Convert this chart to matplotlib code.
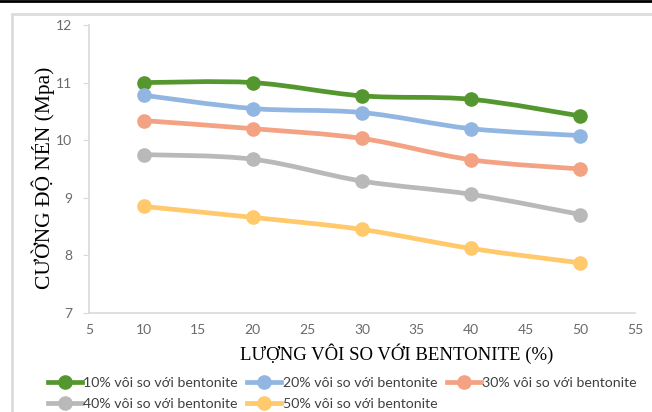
import numpy as np
import matplotlib.pyplot as plt
from matplotlib.patches import Rectangle, PathPatch
from matplotlib.lines import Line2D
from matplotlib.path import Path

# luong voi so voi bentonite (%)
x_vals = [10, 20, 30, 40, 50]

s10 = [11.00, 11.00, 10.77, 10.71, 10.42]
s20 = [10.78, 10.55, 10.48, 10.20, 10.08]
s30 = [10.34, 10.20, 10.03, 9.66, 9.50]
s40 = [9.75, 9.67, 9.29, 9.06, 8.71]
s50 = [8.85, 8.66, 8.45, 8.12, 7.87]

labels = ['10% vôi so với bentonite', '20% vôi so với bentonite',
          '30% vôi so với bentonite', '40% vôi so với bentonite',
          '50% vôi so với bentonite']
colors = ['#55972f', '#92b6e2', '#f3a283', '#b9b9b9', '#ffc96c']

xticks = [5, 10, 15, 20, 25, 30, 35, 40, 45, 50, 55]
yticks = [7, 8, 9, 10, 11, 12]


def smooth_path(xs, ys):
    # excel-like smoothed line: cubic bezier through the points
    p = np.column_stack([xs, ys]).astype(float)
    n = len(p)
    verts = [p[0]]
    codes = [Path.MOVETO]
    for i in range(n - 1):
        p0 = p[i - 1] if i > 0 else p[i]
        p3 = p[i + 2] if i + 2 < n else p[i + 1]
        c1 = p[i] + (p[i + 1] - p0) / 6.0
        c2 = p[i + 1] - (p3 - p[i]) / 6.0
        verts += [c1, c2, p[i + 1]]
        codes += [Path.CURVE4] * 3
    return Path(verts, codes)


fig = plt.figure(figsize=(6.52, 4.12), dpi=100)

# outer chart frame + black top line
fig.patches.append(Rectangle((12/652, -0.1), 1.0, 1 - 14/412 + 0.1,
                             transform=fig.transFigure, fill=False,
                             edgecolor='#dcdcdc', linewidth=2.0))
fig.add_artist(Line2D([0, 1], [1 - 1/412, 1 - 1/412], transform=fig.transFigure,
                      color='black', linewidth=2.0))

ax = fig.add_axes([89/652, 1 - 313/412, (635 - 89)/652, (313 - 25)/412])

handles = []
for ys, lab, c in zip([s10, s20, s30, s40, s50], labels, colors):
    ax.add_patch(PathPatch(smooth_path(x_vals, ys), facecolor='none',
                           edgecolor=c, linewidth=3.4, capstyle='round'))
    ax.plot(x_vals, ys, linestyle='none', color=c, marker='o', markersize=9.5)
    handles.append(Line2D([], [], color=c, linewidth=3.4, marker='o',
                          markersize=9.5, label=lab))

ax.set_xlim(5, 55)
ax.set_ylim(7, 12)
ax.set_xticks(xticks)
ax.set_yticks(yticks)

for side in ['top', 'right']:
    ax.spines[side].set_visible(False)
for side in ['left', 'bottom']:
    ax.spines[side].set_color('#d9d9d9')
    ax.spines[side].set_linewidth(1.2)

ax.tick_params(axis='y', colors='#d9d9d9', labelcolor='#6a6a6a', length=4,
               labelsize=10, pad=8)
ax.tick_params(axis='x', length=0, labelcolor='#6a6a6a', labelsize=10, pad=8)
for t in ax.get_xticklabels() + ax.get_yticklabels():
    t.set_family('Lato')

ax.set_xlabel('LƯỢNG VÔI SO VỚI BENTONITE (%)', family='Liberation Serif',
              fontsize=13.5)
ax.xaxis.set_label_coords((397 - 89)/546, -0.105)
ax.set_ylabel('CƯỜNG ĐỘ NÉN (Mpa)', family='Liberation Serif',
              fontsize=15.5)
ax.yaxis.set_label_coords(-0.062, 0.47)

# row-major order like the original: 10,20,30 / 40,50
order = [0, 3, 1, 4, 2]
leg = fig.legend([handles[i] for i in order], [labels[i] for i in order],
                 loc='lower left', bbox_to_anchor=(41/652, -5/412), ncol=3,
                 frameon=False, handlelength=2.4, borderpad=0,
                 handletextpad=0.1, columnspacing=0.65, labelspacing=0.65,
                 prop={'family': 'Lato', 'size': 10.2})
for t in leg.get_texts():
    t.set_color('#404040')

fig.savefig('out.png', dpi=100)
